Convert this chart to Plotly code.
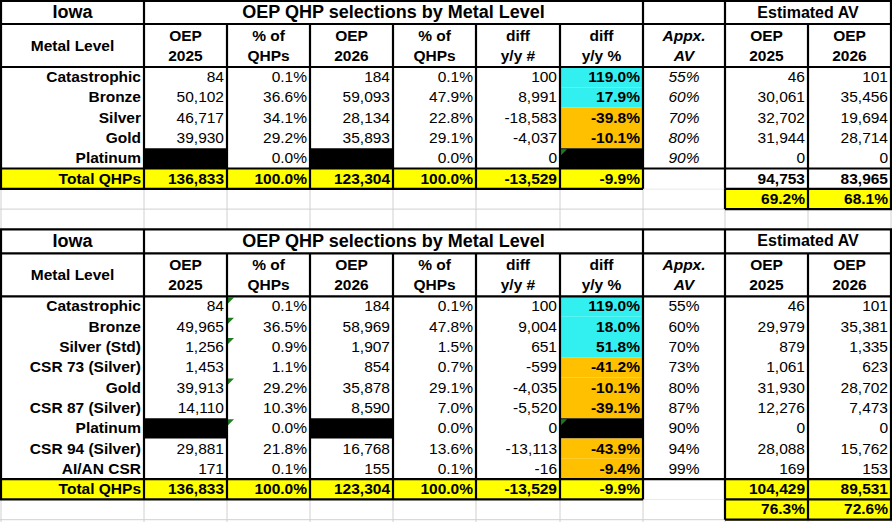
import plotly.graph_objects as go

# ---------------- data ----------------
HEADER_LABELS = ["Metal Level", "OEP<br>2025", "% of<br>QHPs", "OEP<br>2026", "% of<br>QHPs",
                 "diff<br>y/y #", "diff<br>y/y %", "Appx.<br>AV", "OEP<br>2025", "OEP<br>2026"]
STATE = "Iowa"
TITLE = "OEP QHP selections by Metal Level"
AV_TITLE = "Estimated AV"
TOTAL_LABEL = "Total QHPs"

levels1 = ["Catastrophic", "Bronze", "Silver", "Gold", "Platinum"]
oep25_1 = [84, 50102, 46717, 39930, None]
pct25_1 = [0.1, 36.6, 34.1, 29.2, 0.0]
oep26_1 = [184, 59093, 28134, 35893, None]
pct26_1 = [0.1, 47.9, 22.8, 29.1, 0.0]
diff_1 = [100, 8991, -18583, -4037, 0]
diffpct_1 = [119.0, 17.9, -39.8, -10.1, None]
av_1 = [55, 60, 70, 80, 90]
est25_1 = [46, 30061, 32702, 31944, 0]
est26_1 = [101, 35456, 19694, 28714, 0]
total_1 = [136833, 100.0, 123304, 100.0, -13529, -9.9]
esttot_1 = [94753, 83965]
estpct_1 = [69.2, 68.1]

levels2 = ["Catastrophic", "Bronze", "Silver (Std)", "CSR 73 (Silver)", "Gold",
           "CSR 87 (Silver)", "Platinum", "CSR 94 (Silver)", "AI/AN CSR"]
oep25_2 = [84, 49965, 1256, 1453, 39913, 14110, None, 29881, 171]
pct25_2 = [0.1, 36.5, 0.9, 1.1, 29.2, 10.3, 0.0, 21.8, 0.1]
oep26_2 = [184, 58969, 1907, 854, 35878, 8590, None, 16768, 155]
pct26_2 = [0.1, 47.8, 1.5, 0.7, 29.1, 7.0, 0.0, 13.6, 0.1]
diff_2 = [100, 9004, 651, -599, -4035, -5520, 0, -13113, -16]
diffpct_2 = [119.0, 18.0, 51.8, -41.2, -10.1, -39.1, None, -43.9, -9.4]
av_2 = [55, 60, 70, 73, 80, 87, 90, 94, 99]
est25_2 = [46, 29979, 879, 1061, 31930, 12276, 0, 28088, 169]
est26_2 = [101, 35381, 1335, 623, 28702, 7473, 0, 15762, 153]
total_2 = [136833, 100.0, 123304, 100.0, -13529, -9.9]
esttot_2 = [104429, 89531]
estpct_2 = [76.3, 72.6]

# ---------------- layout / style ----------------
W, H = 892, 522
COL_EDGES = [1, 144, 227, 310, 393, 476, 560, 643, 725, 808, 891]
DR = 20.3
ROW_H = [23, 43] + [DR] * 8 + [24, 43] + [DR] * 11 + [4]
ROW_EDGES = [1]
for h in ROW_H:
    ROW_EDGES.append(ROW_EDGES[-1] + h)

FONT = "Arial, 'Liberation Sans', sans-serif"
FS = 15.5
BLACK = "#000000"
GRID = "#D0D0D0"
CYAN = "#33F0F0"
ORANGE = "#FFC000"
YELLOW = "#FFFF00"
GREEN = "#1E7B1E"
BW = 2.2

shapes = []
texts = {}


def line(x0, y0, x1, y1, color=BLACK, width=BW):
    shapes.append(dict(type="line", x0=x0, y0=y0, x1=x1, y1=y1, xref="x", yref="y",
                       line=dict(color=color, width=width), layer="below"))


def rect(c0, c1, r, color, r1=None):
    r1 = r if r1 is None else r1
    shapes.append(dict(type="rect", x0=COL_EDGES[c0], x1=COL_EDGES[c1 + 1],
                       y0=ROW_EDGES[r], y1=ROW_EDGES[r1 + 1], xref="x", yref="y",
                       fillcolor=color, line=dict(width=0), layer="below"))


def tri(c, r):
    x, y = COL_EDGES[c] + 1, ROW_EDGES[r] + 1
    shapes.append(dict(type="path", path=f"M {x},{y} L {x+6},{y} L {x},{y+6} Z",
                       xref="x", yref="y", fillcolor=GREEN, line=dict(width=0), layer="below"))


def put(c, r, txt, align="right", bold=False, italic=False, size=FS, c1=None, dy=1.0):
    c1 = c if c1 is None else c1
    yc = (ROW_EDGES[r] + ROW_EDGES[r + 1]) / 2 + dy
    if align == "right":
        x, pos = COL_EDGES[c1 + 1] - 3, "middle left"
    else:
        x, pos = (COL_EDGES[c] + COL_EDGES[c1 + 1]) / 2, "middle center"
    key = (pos, bold, italic, size)
    d = texts.setdefault(key, dict(x=[], y=[], t=[]))
    d["x"].append(x)
    d["y"].append(yc)
    d["t"].append(txt)


def fi(v):
    return f"{v:,}"


def fp(v):
    return f"{v:.1f}%"


# gray spreadsheet grid
for x in COL_EDGES:
    line(x, 0, x, H, GRID, 1)
for y in ROW_EDGES:
    line(0, y, W, y, GRID, 1)


def draw_table(r0, levels, oep25, pct25, oep26, pct26, diff, diffpct, av, est25, est26,
               total, esttot, estpct, av_italic, esttot_yellow, triangles):
    n = len(levels)
    rh, rd, rt, rx = r0 + 1, r0 + 2, r0 + 2 + n, r0 + 3 + n
    # white table body
    rect(0, 9, r0, "white", rt)
    # fills
    rect(0, 6, rt, YELLOW)
    if esttot_yellow:
        rect(8, 9, rt, YELLOW)
    rect(8, 9, rx, YELLOW)
    for i in range(n):
        r = rd + i
        if oep25[i] is None:
            rect(1, 1, r, BLACK)
        if oep26[i] is None:
            rect(3, 3, r, BLACK)
        v = diffpct[i]
        rect(6, 6, r, BLACK if v is None else (CYAN if v > 0 else ORANGE))
    for (cc, ii) in triangles:
        tri(cc, rd + ii)
    # borders
    yT, yH, yD, yTt, yTb, yX = (ROW_EDGES[r0], ROW_EDGES[rh], ROW_EDGES[rd],
                                ROW_EDGES[rt], ROW_EDGES[rt + 1], ROW_EDGES[rx + 1])
    for y in (yT, yH, yD, yTt):
        line(COL_EDGES[0] - 1, y, COL_EDGES[-1] + 1, y)
    line(COL_EDGES[0] - 1, yTb, COL_EDGES[7], yTb)
    line(COL_EDGES[8], yTb, COL_EDGES[-1] + 1, yTb)
    line(COL_EDGES[8], yX, COL_EDGES[-1] + 1, yX)
    for c in (0, 1, 7, 8, 10):
        line(COL_EDGES[c], yT, COL_EDGES[c], yH)
    for c in range(11):
        line(COL_EDGES[c], yH, COL_EDGES[c], yTb)
    for c in (8, 9, 10):
        line(COL_EDGES[c], yTb, COL_EDGES[c], yX)
    # text
    put(0, r0, STATE, "center", True, size=18)
    put(1, r0, TITLE, "center", True, size=18, c1=6)
    put(8, r0, AV_TITLE, "center", True, size=16, c1=9)
    for c, lab in enumerate(HEADER_LABELS):
        put(c, rh, lab, "center", True, italic=(c == 7), dy=1.5)
    for i in range(n):
        r = rd + i
        put(0, r, levels[i], bold=True)
        if oep25[i] is not None:
            put(1, r, fi(oep25[i]))
        put(2, r, fp(pct25[i]))
        if oep26[i] is not None:
            put(3, r, fi(oep26[i]))
        put(4, r, fp(pct26[i]))
        put(5, r, fi(diff[i]))
        if diffpct[i] is not None:
            put(6, r, fp(diffpct[i]), bold=True)
        put(7, r, f"{av[i]}%", "center", italic=av_italic)
        put(8, r, fi(est25[i]))
        put(9, r, fi(est26[i]))
    put(0, rt, TOTAL_LABEL, bold=True)
    fmts = [fi, fp, fi, fp, fi, fp]
    for k, v in enumerate(total):
        put(1 + k, rt, fmts[k](v), bold=True)
    put(8, rt, fi(esttot[0]), bold=True)
    put(9, rt, fi(esttot[1]), bold=True)
    put(8, rx, fp(estpct[0]), bold=True)
    put(9, rx, fp(estpct[1]), bold=True)


draw_table(0, levels1, oep25_1, pct25_1, oep26_1, pct26_1, diff_1, diffpct_1, av_1,
           est25_1, est26_1, total_1, esttot_1, estpct_1, True, False, [(6, 4)])
draw_table(10, levels2, oep25_2, pct25_2, oep26_2, pct26_2, diff_2, diffpct_2, av_2,
           est25_2, est26_2, total_2, esttot_2, estpct_2, False, True,
           [(2, 0), (2, 1), (2, 2), (2, 4), (2, 6), (6, 6)])

fig = go.Figure()
for (pos, bold, italic, size), d in texts.items():
    fig.add_trace(go.Scatter(
        x=d["x"], y=d["y"], text=d["t"], mode="text", textposition=pos,
        textfont=dict(family=FONT, size=size, color="black",
                      weight="bold" if bold else "normal",
                      style="italic" if italic else "normal"),
        hoverinfo="skip", showlegend=False, cliponaxis=False))

fig.update_layout(
    width=W, height=H, margin=dict(l=0, r=0, t=0, b=0),
    paper_bgcolor="white", plot_bgcolor="white", shapes=shapes, showlegend=False,
    xaxis=dict(range=[0, W], visible=False, fixedrange=True),
    yaxis=dict(range=[H, 0], visible=False, fixedrange=True),
)
fig.write_html("out.html", config={"displayModeBar": False},
               post_script="document.body.style.margin='0';document.body.style.overflow='hidden';")
